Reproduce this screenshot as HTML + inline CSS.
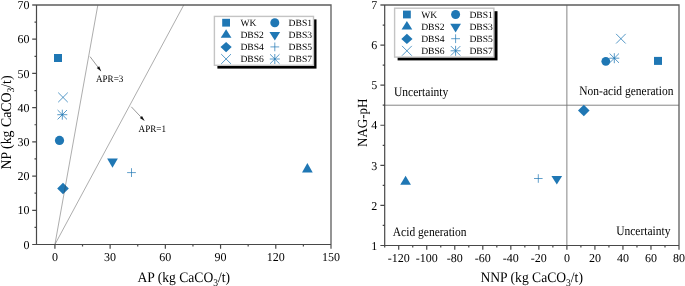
<!DOCTYPE html>
<html><head><meta charset="utf-8"><title>Charts</title>
<style>
html,body{margin:0;padding:0;background:#fff;width:685px;height:286px;overflow:hidden;}
svg{display:block;will-change:transform;}
text{font-family:"Liberation Serif", serif;text-rendering:geometricPrecision;}
</style></head><body>
<svg width="685" height="286" viewBox="0 0 685 286">
<g font-family="Liberation Serif, serif" fill="#000">
<rect x="54" y="54" width="8" height="8" fill="#1f77b4"/>
<circle cx="59.5" cy="140.4" r="4.6" fill="#1f77b4"/>
<path d="M307.4 163L312.75 172.5H302.05Z" fill="#1f77b4"/>
<path d="M107.15 158.6H117.85L112.5 167.8Z" fill="#1f77b4"/>
<path d="M63 182.8L68.8 188.5L63 194.2L57.2 188.5Z" fill="#1f77b4"/>
<path d="M127.1 172.6H135.9M131.5 168.2V177" stroke="#1f77b4" stroke-width="0.7" fill="none"/>
<path d="M58.2 92.6L67.8 102.2M58.2 102.2L67.8 92.6" stroke="#1f77b4" stroke-width="0.75" fill="none"/>
<path d="M57.3 114.7H67.3M62.3 109.7V119.7M57.6 110L67 119.4M57.6 119.4L67 110" stroke="#1f77b4" stroke-width="0.75" fill="none"/>
<path d="M54.91 244.5L97.85 5M54.91 244.5L183.75 5" stroke="#3a3a3a" stroke-width="0.42" fill="none"/>
<path d="M90 56.6L97.98 67.12" stroke="#444" stroke-width="0.55" fill="none"/>
<path d="M101.3 71.5L96.78 68.02L99.17 66.21Z" fill="#111"/>
<path d="M131.3 106.8L140.93 117" stroke="#444" stroke-width="0.55" fill="none"/>
<path d="M144.7 121L139.83 118.03L142.02 115.97Z" fill="#111"/>
<text transform="translate(96.0 81.9) scale(1 1.1)" font-size="9.1">APR=3</text>
<text transform="translate(138.6 132.3) scale(1 1.1)" font-size="9.1">APR=1</text>
<path d="M32.2 5H331V248.8" fill="none" stroke="#5c5c5c" stroke-width="1.3"/>
<text x="29.6" y="248.7" text-anchor="end" font-size="12">0</text>
<text x="29.6" y="214.49" text-anchor="end" font-size="12">10</text>
<text x="29.6" y="180.27" text-anchor="end" font-size="12">20</text>
<text x="29.6" y="146.06" text-anchor="end" font-size="12">30</text>
<text x="29.6" y="111.84" text-anchor="end" font-size="12">40</text>
<text x="29.6" y="77.63" text-anchor="end" font-size="12">50</text>
<text x="29.6" y="43.41" text-anchor="end" font-size="12">60</text>
<text x="29.6" y="9.2" text-anchor="end" font-size="12">70</text>
<text x="54.91" y="261.2" text-anchor="middle" font-size="12">0</text>
<text x="110.12" y="261.2" text-anchor="middle" font-size="12">30</text>
<text x="165.34" y="261.2" text-anchor="middle" font-size="12">60</text>
<text x="220.56" y="261.2" text-anchor="middle" font-size="12">90</text>
<text x="275.78" y="261.2" text-anchor="middle" font-size="12">120</text>
<text x="331" y="261.2" text-anchor="middle" font-size="12">150</text>
<path d="M36.5 5V244.5H331M32.2 244.5H36.5M32.2 210.29H36.5M32.2 176.07H36.5M32.2 141.86H36.5M32.2 107.64H36.5M32.2 73.43H36.5M32.2 39.21H36.5M34.5 227.39H36.5M34.5 193.18H36.5M34.5 158.96H36.5M34.5 124.75H36.5M34.5 90.54H36.5M34.5 56.32H36.5M34.5 22.11H36.5M54.91 244.5V248.8M110.12 244.5V248.8M165.34 244.5V248.8M220.56 244.5V248.8M275.78 244.5V248.8M82.52 244.5V246.5M137.73 244.5V246.5M192.95 244.5V246.5M248.17 244.5V246.5M303.39 244.5V246.5" fill="none" stroke="#484848" stroke-width="1.2"/>
<rect x="217.4" y="19.4" width="99.1" height="49.2" fill="#000"/>
<rect x="214.4" y="16.4" width="99.1" height="48.9" fill="#fff" stroke="#c4c4c4" stroke-width="1.4"/>
<rect x="222.2" y="18.8" width="7.8" height="7.8" fill="#1f77b4"/>
<circle cx="274.8" cy="22.7" r="4.5" fill="#1f77b4"/>
<path d="M226.1 29.3L231.45 37.7H220.75Z" fill="#1f77b4"/>
<path d="M269.45 32H280.15L274.8 40.6Z" fill="#1f77b4"/>
<path d="M226.1 42L231.7 47.1L226.1 52.2L220.5 47.1Z" fill="#1f77b4"/>
<path d="M270.4 46.9H279.2M274.8 42.5V51.3" stroke="#1f77b4" stroke-width="0.7" fill="none"/>
<path d="M221.2 54.1L231 63.9M221.2 63.9L231 54.1" stroke="#1f77b4" stroke-width="0.75" fill="none"/>
<path d="M269.8 59H279.8M274.8 54V64M270.1 54.3L279.5 63.7M270.1 63.7L279.5 54.3" stroke="#1f77b4" stroke-width="0.75" fill="none"/>
<text x="240.4" y="26.1" font-size="9.6">WK</text>
<text x="288.6" y="26.1" font-size="9.6">DBS1</text>
<text x="240.4" y="38.2" font-size="9.6">DBS2</text>
<text x="288.6" y="38.2" font-size="9.6">DBS3</text>
<text x="240.4" y="50.3" font-size="9.6">DBS4</text>
<text x="288.6" y="50.3" font-size="9.6">DBS5</text>
<text x="240.4" y="62.4" font-size="9.6">DBS6</text>
<text x="288.6" y="62.4" font-size="9.6">DBS7</text>
<text transform="translate(183.8 282.0) scale(1 1.07)" text-anchor="middle" font-size="13.6">AP (kg CaCO<tspan font-size="9.6" dy="3.6">3</tspan><tspan dy="-3.6">/t)</tspan></text>
<text transform="translate(10.6 122.5) rotate(-90) scale(1 1.07)" text-anchor="middle" font-size="13.8">NP (kg CaCO<tspan font-size="9.6" dy="3.6">3</tspan><tspan dy="-3.6">/t)</tspan></text>
<path d="M384.7 105.21H679M566.89 5V245.5" stroke="#777" stroke-width="0.9" fill="none"/>
<rect x="654" y="56.9" width="8" height="8" fill="#1f77b4"/>
<circle cx="605.8" cy="61.3" r="4.4" fill="#1f77b4"/>
<path d="M405.6 175.8L410.95 184.8H400.25Z" fill="#1f77b4"/>
<path d="M551.45 176H562.15L556.8 184.6Z" fill="#1f77b4"/>
<path d="M583.8 104.8L589.6 110.5L583.8 116.2L578 110.5Z" fill="#1f77b4"/>
<path d="M534 178.5H542.6M538.3 174.2V182.8" stroke="#1f77b4" stroke-width="0.7" fill="none"/>
<path d="M616.1 33.9L625.7 43.5M616.1 43.5L625.7 33.9" stroke="#1f77b4" stroke-width="0.75" fill="none"/>
<path d="M609.3 58.2H619.3M614.3 53.2V63.2M609.6 53.5L619 62.9M609.6 62.9L619 53.5" stroke="#1f77b4" stroke-width="0.75" fill="none"/>
<text transform="translate(394.0 95.5) scale(1 1.13)" font-size="11.5">Uncertainty</text>
<text transform="translate(579.3 95.0) scale(1 1.13)" font-size="11.5">Non-acid generation</text>
<text transform="translate(392.8 235.5) scale(1 1.13)" font-size="11.5">Acid generation</text>
<text transform="translate(616.2 234.7) scale(1 1.13)" font-size="11.5">Uncertainty</text>
<path d="M380.4 5H679V249.8" fill="none" stroke="#5c5c5c" stroke-width="1.3"/>
<text x="377.3" y="249.7" text-anchor="end" font-size="12">1</text>
<text x="377.3" y="209.62" text-anchor="end" font-size="12">2</text>
<text x="377.3" y="169.53" text-anchor="end" font-size="12">3</text>
<text x="377.3" y="129.45" text-anchor="end" font-size="12">4</text>
<text x="377.3" y="89.37" text-anchor="end" font-size="12">5</text>
<text x="377.3" y="49.28" text-anchor="end" font-size="12">6</text>
<text x="377.3" y="9.2" text-anchor="end" font-size="12">7</text>
<text x="398.71" y="261.6" text-anchor="middle" font-size="12">-120</text>
<text x="426.74" y="261.6" text-anchor="middle" font-size="12">-100</text>
<text x="454.77" y="261.6" text-anchor="middle" font-size="12">-80</text>
<text x="482.8" y="261.6" text-anchor="middle" font-size="12">-60</text>
<text x="510.83" y="261.6" text-anchor="middle" font-size="12">-40</text>
<text x="538.86" y="261.6" text-anchor="middle" font-size="12">-20</text>
<text x="566.89" y="261.6" text-anchor="middle" font-size="12">0</text>
<text x="594.91" y="261.6" text-anchor="middle" font-size="12">20</text>
<text x="622.94" y="261.6" text-anchor="middle" font-size="12">40</text>
<text x="650.97" y="261.6" text-anchor="middle" font-size="12">60</text>
<text x="679" y="261.6" text-anchor="middle" font-size="12">80</text>
<path d="M384.7 5V245.5H679M380.4 245.5H384.7M380.4 205.42H384.7M380.4 165.33H384.7M380.4 125.25H384.7M380.4 85.17H384.7M380.4 45.08H384.7M382.7 225.46H384.7M382.7 185.38H384.7M382.7 145.29H384.7M382.7 105.21H384.7M382.7 65.12H384.7M382.7 25.04H384.7M398.71 245.5V249.8M426.74 245.5V249.8M454.77 245.5V249.8M482.8 245.5V249.8M510.83 245.5V249.8M538.86 245.5V249.8M566.89 245.5V249.8M594.91 245.5V249.8M622.94 245.5V249.8M650.97 245.5V249.8M384.7 245.5V247.5M412.73 245.5V247.5M440.76 245.5V247.5M468.79 245.5V247.5M496.81 245.5V247.5M524.84 245.5V247.5M552.87 245.5V247.5M580.9 245.5V247.5M608.93 245.5V247.5M636.96 245.5V247.5M664.99 245.5V247.5" fill="none" stroke="#484848" stroke-width="1.2"/>
<rect x="397.6" y="11.2" width="99.9" height="49.2" fill="#000"/>
<rect x="394.6" y="8.2" width="99.3" height="48.9" fill="#fff" stroke="#c4c4c4" stroke-width="1.4"/>
<rect x="403" y="10.6" width="7.8" height="7.8" fill="#1f77b4"/>
<circle cx="455.6" cy="14.5" r="4.5" fill="#1f77b4"/>
<path d="M406.9 21.1L412.25 29.5H401.55Z" fill="#1f77b4"/>
<path d="M450.25 23.8H460.95L455.6 32.4Z" fill="#1f77b4"/>
<path d="M406.9 33.8L412.5 38.9L406.9 44L401.3 38.9Z" fill="#1f77b4"/>
<path d="M451.2 38.7H460M455.6 34.3V43.1" stroke="#1f77b4" stroke-width="0.7" fill="none"/>
<path d="M402 45.9L411.8 55.7M402 55.7L411.8 45.9" stroke="#1f77b4" stroke-width="0.75" fill="none"/>
<path d="M450.6 50.8H460.6M455.6 45.8V55.8M450.9 46.1L460.3 55.5M450.9 55.5L460.3 46.1" stroke="#1f77b4" stroke-width="0.75" fill="none"/>
<text x="421.2" y="17.9" font-size="9.6">WK</text>
<text x="469.4" y="17.9" font-size="9.6">DBS1</text>
<text x="421.2" y="30" font-size="9.6">DBS2</text>
<text x="469.4" y="30" font-size="9.6">DBS3</text>
<text x="421.2" y="42.1" font-size="9.6">DBS4</text>
<text x="469.4" y="42.1" font-size="9.6">DBS5</text>
<text x="421.2" y="54.2" font-size="9.6">DBS6</text>
<text x="469.4" y="54.2" font-size="9.6">DBS7</text>
<text transform="translate(531.7 282.0) scale(1 1.07)" text-anchor="middle" font-size="13.6">NNP (kg CaCO<tspan font-size="9.6" dy="3.6">3</tspan><tspan dy="-3.6">/t)</tspan></text>
<text transform="translate(366.6 122.75) rotate(-90) scale(1 1.07)" text-anchor="middle" font-size="13">NAG-pH</text>
</g></svg>
</body></html>
